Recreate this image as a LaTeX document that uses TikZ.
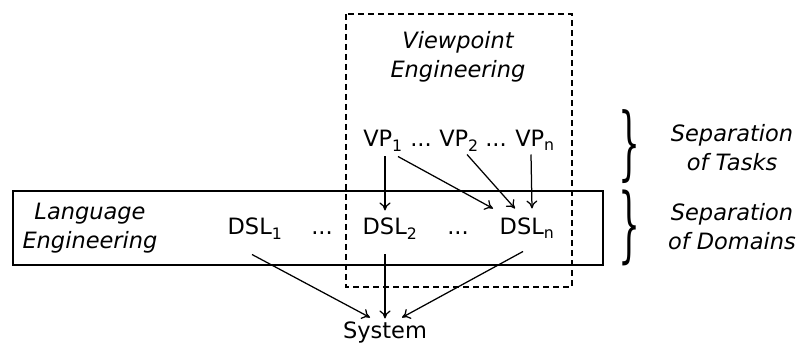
\documentclass[tikz,border=0pt]{standalone}
\usepackage{fontspec}
\setmainfont{DejaVu Sans}
\newfontfamily\brfont{DejaVu Serif}
\usepackage{graphicx}
\usetikzlibrary{arrows.meta}
\begin{document}
\begin{tikzpicture}[x=1pt,y=-1pt,
  font=\fontsize{22.5}{30}\selectfont,
  conn/.style={-{To[length=8pt,width=11pt]}, line width=1.25pt},
  lbl/.style={inner sep=0pt, align=center, font=\fontsize{22.5}{29}\selectfont\itshape},
  txt/.style={inner sep=0pt, outer sep=0pt, text height=16.5pt, text depth=4.5pt},
  brc/.style={inner sep=0pt, font=\brfont}]
\useasboundingbox (0,0) rectangle (798,347);
\draw[line width=1.1pt, dash pattern=on 6pt off 4pt] (346,14) rectangle (572,287);
\draw[line width=1.1pt] (13,191) rectangle (603,265);
% labels
\node[lbl] (vpe) at (458,57) {Viewpoint\\Engineering};
\node[lbl] (lge) at (90,228) {Language\\Engineering};
\node[lbl] (sot) at (732,148) {Separation\\of Tasks};
\node[lbl] (sod) at (732,227) {Separation\\of Domains};
% braces
\node[brc] (b1) at (629,147) {\resizebox*{22pt}{74pt}{\}}};
\node[brc] (b2) at (629,228) {\resizebox*{22pt}{76pt}{\}}};
% VP row
\node[txt] (vp1) at (383,141) {VP\textsubscript{1}};
\node[txt] (d1) at (421,141) {...};
\node[txt] (vp2) at (459,141) {VP\textsubscript{2}};
\node[txt] (d2) at (496,141) {...};
\node[txt] (vpn) at (535,141) {VP\textsubscript{n}};
% DSL row
\node[txt] (dsl1) at (255,229) {DSL\textsubscript{1}};
\node[txt] (e1) at (322,229) {...};
\node[txt] (dsl2) at (390,229) {DSL\textsubscript{2}};
\node[txt] (e2) at (458,229) {...};
\node[txt] (dsln) at (527,229) {DSL\textsubscript{n}};
% system
\node[txt] (sys) at (385,332) {System};
% connectors
\draw[conn] ([xshift=2pt,yshift=-5pt]vp1.south) -- ([xshift=-5pt,yshift=8pt]dsl2.north);
\draw[conn] ([xshift=15pt,yshift=-5pt]vp1.south) -- ([xshift=-34pt,yshift=10pt]dsln.north);
\draw[conn] ([xshift=8pt,yshift=-3pt]vp2.south) -- ([xshift=-12pt,yshift=10pt]dsln.north);
\draw[conn] ([xshift=-4pt,yshift=-3pt]vpn.south) -- ([xshift=5pt,yshift=10pt]dsln.north);
\draw[conn] ([xshift=-3pt,yshift=-15pt]dsl1.south) -- ([xshift=-15pt,yshift=4pt]sys.north);
\draw[conn] ([xshift=-5pt,yshift=-15pt]dsl2.south) -- ([xshift=0pt,yshift=3pt]sys.north);
\draw[conn] ([xshift=-4pt,yshift=-12pt]dsln.south) -- ([xshift=17pt,yshift=4pt]sys.north);
\end{tikzpicture}
\end{document}
